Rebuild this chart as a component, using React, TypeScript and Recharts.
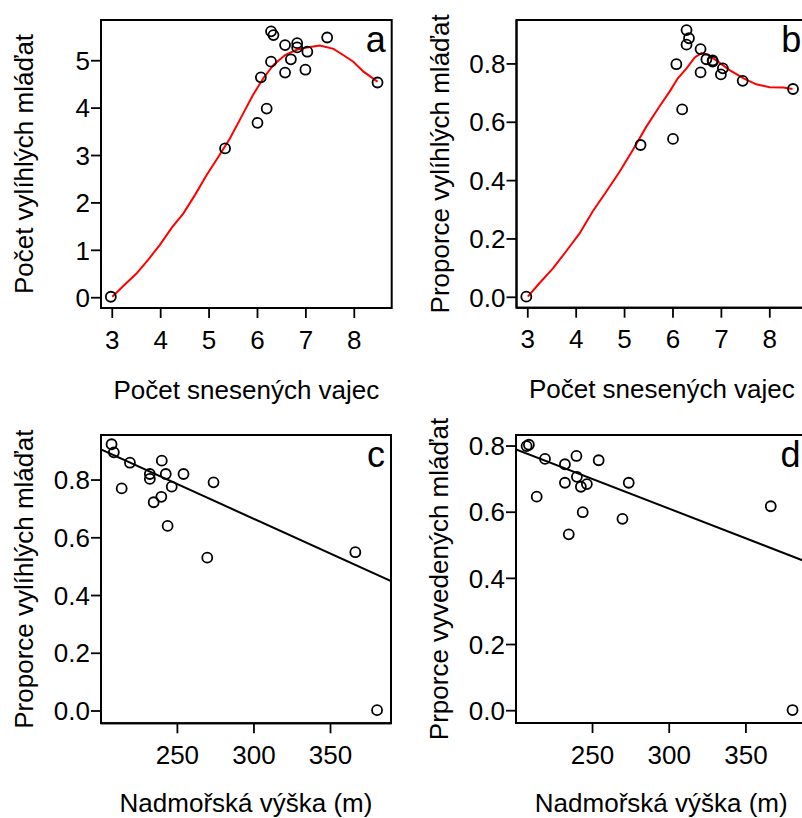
import { ScatterChart, Scatter, XAxis, YAxis, ReferenceArea } from "recharts";

// mean clutch size per site (x of panels a, b)
const eggsLaid = [2.97, 5.33, 6.0, 6.07, 6.19, 6.28, 6.33, 6.28, 6.57, 6.57, 6.69, 6.82, 6.82, 6.99, 7.03, 7.44, 8.48];
const hatchedCount = [0.02, 3.15, 3.69, 4.65, 3.99, 5.62, 5.54, 4.98, 5.33, 4.75, 5.03, 5.37, 5.28, 4.81, 5.19, 5.49, 4.54];
const hatchedShare = [0.002, 0.522, 0.543, 0.799, 0.644, 0.916, 0.888, 0.866, 0.851, 0.771, 0.816, 0.812, 0.808, 0.764, 0.785, 0.742, 0.714];

// smoothed curves (red)
const smoothAx = [3.0, 3.26, 3.5, 3.74, 3.98, 4.23, 4.47, 4.71, 4.95, 5.19, 5.43, 5.67, 5.91, 6.12, 6.33, 6.57, 6.81, 7.02, 7.29, 7.57, 7.77, 7.98, 8.19, 8.48];
const smoothAy = [0.02, 0.28, 0.51, 0.8, 1.11, 1.48, 1.78, 2.17, 2.59, 2.97, 3.36, 3.82, 4.28, 4.63, 4.91, 5.12, 5.23, 5.28, 5.32, 5.25, 5.12, 4.98, 4.77, 4.56];
const smoothBx = [3.0, 3.24, 3.52, 3.79, 4.07, 4.34, 4.62, 4.9, 5.17, 5.45, 5.72, 5.93, 6.1, 6.28, 6.45, 6.59, 6.72, 6.93, 7.17, 7.45, 7.72, 8.0, 8.28, 8.47];
const smoothBy = [0.002, 0.048, 0.099, 0.157, 0.219, 0.294, 0.362, 0.431, 0.505, 0.585, 0.654, 0.705, 0.751, 0.785, 0.822, 0.837, 0.831, 0.808, 0.779, 0.751, 0.73, 0.72, 0.719, 0.714];

// altitude per site (x of panels c, d)
const altitude = [207, 208.5, 213.6, 219, 232, 232, 234.5, 239.5, 239.8, 242.4, 243.6, 246.3, 254, 269.5, 273.6, 366.2, 380.4];
const hatchedByAlt = [0.924, 0.896, 0.771, 0.86, 0.821, 0.804, 0.723, 0.742, 0.867, 0.821, 0.641, 0.777, 0.821, 0.531, 0.792, 0.55, 0.003];
const fledgedByAlt = [0.8, 0.804, 0.647, 0.761, 0.745, 0.689, 0.533, 0.77, 0.707, 0.677, 0.6, 0.685, 0.757, 0.58, 0.689, 0.618, 0.002];

// linear fits (ends)
const fitX = [200.1, 389.5];
const fitCy = [0.906, 0.45];
const fitDy = [0.79, 0.45];

const eggTicks = [3, 4, 5, 6, 7, 8];
const countTicks = [0, 1, 2, 3, 4, 5];
const shareTicks = [0, 0.2, 0.4, 0.6, 0.8];
const altTicks = [250, 300, 350];

const FONT = '"Liberation Sans", Arial, sans-serif';
const FS = 26;

type Pt = { x: number; y: number };
const zip = (xs: number[], ys: number[]): Pt[] => xs.map((x, i) => ({ x, y: ys[i] }));

const Ring = (props: any) => (
  <circle cx={props.cx} cy={props.cy} r={5} fill="none" stroke="#000" strokeWidth={1.8} />
);
const NoDot = () => <g />;

interface PanelProps {
  left: number;
  top: number;
  width: number;
  height: number;
  plotLeft: number;
  plotWidth: number;
  plotHeight: number;
  titleGap: number;
  xDomain: [number, number];
  yDomain: [number, number];
  xTicks: number[];
  yTicks: number[];
  yDecimals: number;
  xTitle: string;
  yTitle: string;
  tag: string;
  points: Pt[];
  fit: Pt[];
  fitColor: string;
}

const Panel = (p: PanelProps) => {
  const plotTop = 20;
  const xAxisH = p.height - plotTop - p.plotHeight;
  const right = p.width - p.plotLeft - p.plotWidth;
  const midX = p.plotLeft + p.plotWidth / 2;
  const midY = plotTop + p.plotHeight / 2;
  const bottom = plotTop + p.plotHeight;
  const yx = p.plotLeft - 67.7;
  return (
    <div style={{ position: "absolute", left: p.left, top: p.top }}>
      <ScatterChart
        width={p.width}
        height={p.height}
        margin={{ top: plotTop, right, bottom: 0, left: 0 }}
        style={{ fontFamily: FONT }}
      >
        <XAxis
          type="number"
          dataKey="x"
          domain={p.xDomain}
          allowDataOverflow
          ticks={p.xTicks}
          interval={0}
          height={xAxisH}
          tickSize={10}
          tickMargin={12.3}
          axisLine={{ stroke: "#000", strokeWidth: 2 }}
          tickLine={{ stroke: "#000", strokeWidth: 1.8 }}
          tick={{ fill: "#000", fontSize: FS, fontFamily: FONT }}
          label={() => (
            <text x={midX} y={bottom + p.titleGap} textAnchor="middle" fontSize={FS} fill="#000" fontFamily={FONT}>
              {p.xTitle}
            </text>
          )}
        />
        <YAxis
          type="number"
          dataKey="y"
          domain={p.yDomain}
          allowDataOverflow
          ticks={p.yTicks}
          interval={0}
          width={p.plotLeft}
          tickSize={10}
          tickMargin={1}
          tickFormatter={(v: number) => v.toFixed(p.yDecimals)}
          axisLine={{ stroke: "#000", strokeWidth: 2 }}
          tickLine={{ stroke: "#000", strokeWidth: 1.8 }}
          tick={{ fill: "#000", fontSize: FS, fontFamily: FONT }}
          label={() => (
            <text
              x={yx}
              y={midY}
              transform={`rotate(-90, ${yx}, ${midY})`}
              textAnchor="middle"
              fontSize={FS}
              fill="#000"
              fontFamily={FONT}
            >
              {p.yTitle}
            </text>
          )}
        />
        <ReferenceArea
          x1={p.xDomain[0]}
          x2={p.xDomain[1]}
          y1={p.yDomain[0]}
          y2={p.yDomain[1]}
          fill="none"
          fillOpacity={0}
          stroke="#000"
          strokeWidth={2}
          ifOverflow="visible"
          label={{ value: p.tag, position: "insideTopRight", offset: 6, fontSize: 36, fill: "#000", fontFamily: FONT }}
        />
        <Scatter
          data={p.fit}
          line={{ stroke: p.fitColor, strokeWidth: 2 }}
          shape={NoDot}
          isAnimationActive={false}
        />
        <Scatter data={p.points} shape={Ring} isAnimationActive={false} />
      </ScatterChart>
    </div>
  );
};

export default function App() {
  return (
    <div
      style={{
        position: "absolute",
        left: 0,
        top: 0,
        width: 802,
        height: 818,
        overflow: "hidden",
        background: "#fff",
      }}
    >
      <Panel
        left={0}
        top={0}
        width={410}
        height={410}
        plotLeft={101}
        plotWidth={290.7}
        plotHeight={288}
        titleGap={90.5}
        xDomain={[2.767, 8.773]}
        yDomain={[-0.217, 5.859]}
        xTicks={eggTicks}
        yTicks={countTicks}
        yDecimals={0}
        xTitle="Počet snesených vajec"
        yTitle="Počet vylíhlých mláďat"
        tag="a"
        points={zip(eggsLaid, hatchedCount)}
        fit={zip(smoothAx, smoothAy)}
        fitColor="#ff0000"
      />
      <Panel
        left={410}
        top={0}
        width={410}
        height={410}
        plotLeft={106.5}
        plotWidth={290.7}
        plotHeight={287.7}
        titleGap={90.5}
        xDomain={[2.767, 8.773]}
        yDomain={[-0.0357, 0.9506]}
        xTicks={eggTicks}
        yTicks={shareTicks}
        yDecimals={1}
        xTitle="Počet snesených vajec"
        yTitle="Proporce vylíhlých mláďat"
        tag="b"
        points={zip(eggsLaid, hatchedShare)}
        fit={zip(smoothBx, smoothBy)}
        fitColor="#ff0000"
      />
      <Panel
        left={0}
        top={415}
        width={410}
        height={403}
        plotLeft={101}
        plotWidth={290}
        plotHeight={288.3}
        titleGap={88.7}
        xDomain={[200.1, 389.5]}
        yDomain={[-0.0426, 0.956]}
        xTicks={altTicks}
        yTicks={shareTicks}
        yDecimals={1}
        xTitle="Nadmořská výška (m)"
        yTitle="Proporce vylíhlých mláďat"
        tag="c"
        points={zip(altitude, hatchedByAlt)}
        fit={zip(fitX, fitCy)}
        fitColor="#000000"
      />
      <Panel
        left={410}
        top={415}
        width={410}
        height={403}
        plotLeft={106}
        plotWidth={290.5}
        plotHeight={288}
        titleGap={89}
        xDomain={[200.1, 389.5]}
        yDomain={[-0.0372, 0.8334]}
        xTicks={altTicks}
        yTicks={shareTicks}
        yDecimals={1}
        xTitle="Nadmořská výška (m)"
        yTitle="Prporce vyvedených mláďat"
        tag="d"
        points={zip(altitude, fledgedByAlt)}
        fit={zip(fitX, fitDy)}
        fitColor="#000000"
      />
    </div>
  );
}
